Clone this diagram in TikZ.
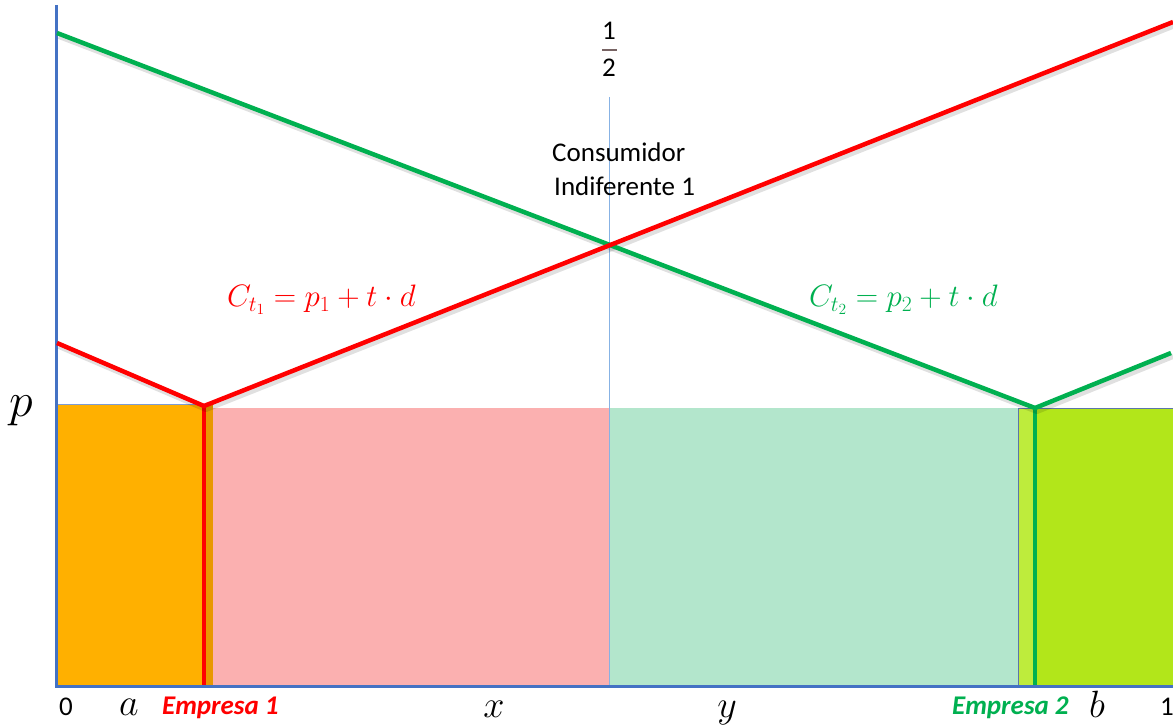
\RequirePackage{fix-cm}
\documentclass[tikz,border=0pt]{standalone}
\usepackage{fontspec}
\newfontfamily\calib{Carlito}
\definecolor{lnred}{RGB}{255,0,0}
\definecolor{lngreen}{RGB}{0,176,80}
\definecolor{axblue}{RGB}{68,114,196}
\definecolor{orangefill}{RGB}{255,176,0}
\definecolor{orangedark}{RGB}{232,152,0}
\definecolor{pinkfill}{RGB}{251,176,176}
\definecolor{mintfill}{RGB}{179,230,204}
\definecolor{limefill}{RGB}{178,230,26}
\definecolor{limelight}{RGB}{190,236,60}
\definecolor{midblue}{RGB}{135,178,228}
\definecolor{barcol}{RGB}{120,100,100}
\begin{document}
\begin{tikzpicture}[x=1pt,y=-1pt,
  curve/.style={line width=4.5pt,line join=miter},
  shadowline/.style={line width=6pt,black,opacity=0.12,line join=round},
  sanslbl/.style={inner sep=0pt,font=\calib\fontsize{27}{30}\selectfont},
  mathlbl/.style={inner sep=0pt,font=\fontsize{38}{40}\selectfont},
  formula/.style={inner sep=0pt,font=\fontsize{31}{34}\selectfont},
  firm/.style={inner sep=0pt,font=\calib\bfseries\itshape\fontsize{27}{30}\selectfont}]
\useasboundingbox (0,0) rectangle (1173,727);
% coordinates
\coordinate (O) at (56,686);
\coordinate (Ytop) at (56,5);
\coordinate (Xend) at (1173,686);
\coordinate (g0) at (57,33);
\coordinate (gv) at (1035,408);
\coordinate (g2) at (1171,353);
\coordinate (r0) at (57,343);
\coordinate (rv) at (204,406);
\coordinate (r2) at (1173,22);
\coordinate (mtop) at (609,97);
\coordinate (mbot) at (609,686);
\coordinate (rb) at (204,686);
\coordinate (gb) at (1035,686);
% areas
\fill[orangefill] (56,404) rectangle (205,686);
\fill[orangedark] (205,404) rectangle (213,686);
\draw[axblue!70,line width=0.8pt] (56,404) -- (205,404);
\draw[yellow!80!orange,line width=0.8pt] (205,404) -- (213,404);
\fill[pinkfill] (213,408) rectangle (609,686);
\fill[mintfill] (609,408) rectangle (1018,686);
\fill[limelight] (1018,408) rectangle (1035,686);
\fill[limefill] (1035,408) rectangle (1173,686);
\draw[axblue!60!gray,line width=0.8pt] (1018,686) -- (1018,408) -- (1173,408);
% middle line
\draw[midblue,line width=1pt] (mtop) -- (mbot);
% verticals
\draw[lnred,line width=4.5pt] (rv) -- (rb);
\draw[lngreen,line width=4.5pt] (gv) -- (gb);
% axes
\draw[axblue,line width=3pt] (Ytop) -- (O) -- (Xend);
% shadows
\begin{scope}[transform canvas={shift={(2pt,-3pt)}}]
\draw[shadowline] (g0) -- (gv) -- (g2);
\draw[shadowline] (r0) -- (rv) -- (r2);
\end{scope}
% curves
\draw[curve,lngreen] (g0) -- (gv) -- (g2);
\draw[curve,lnred] (r0) -- (rv) -- (r2);
% half
\node[sanslbl,anchor=base] (one) at (609,40) {1};
\node[sanslbl,anchor=base] (two) at (609,77) {2};
\draw[barcol,line width=1.2pt] (602,50) -- (617,50);
% consumer
\node[sanslbl,anchor=base west] (cons1) at (552,162) {Consumidor};
\node[sanslbl,anchor=base west] (cons2) at (554,196) {Indiferente 1};
% formulas
\node[formula,anchor=base west,text=lnred] (f1) at (227,307) {$C_{t_1}=p_1+t\cdot d$};
\node[formula,anchor=base west,text=lngreen] (f2) at (809,307) {$C_{t_2}=p_2+t\cdot d$};
% p
\node[inner sep=0pt,font=\fontsize{48}{50}\selectfont,anchor=base] (plbl) at (21,416) {$p$};
% bottom labels
\node[sanslbl,anchor=base] (zero) at (66,715) {0};
\node[mathlbl,anchor=base] (albl) at (129,715) {$a$};
\node[firm,anchor=base west,text=lnred] (e1) at (162,714) {Empresa 1};
\node[mathlbl,anchor=base] (xlbl) at (494,717) {$x$};
\node[mathlbl,anchor=base] (ylbl) at (727,717) {$y$};
\node[firm,anchor=base west,text=lngreen] (e2) at (952,714) {Empresa 2};
\node[mathlbl,anchor=base] (blbl) at (1097,717) {$b$};
\node[sanslbl,anchor=base west] (onelbl) at (1160,715) {1};
\end{tikzpicture}
\end{document}
